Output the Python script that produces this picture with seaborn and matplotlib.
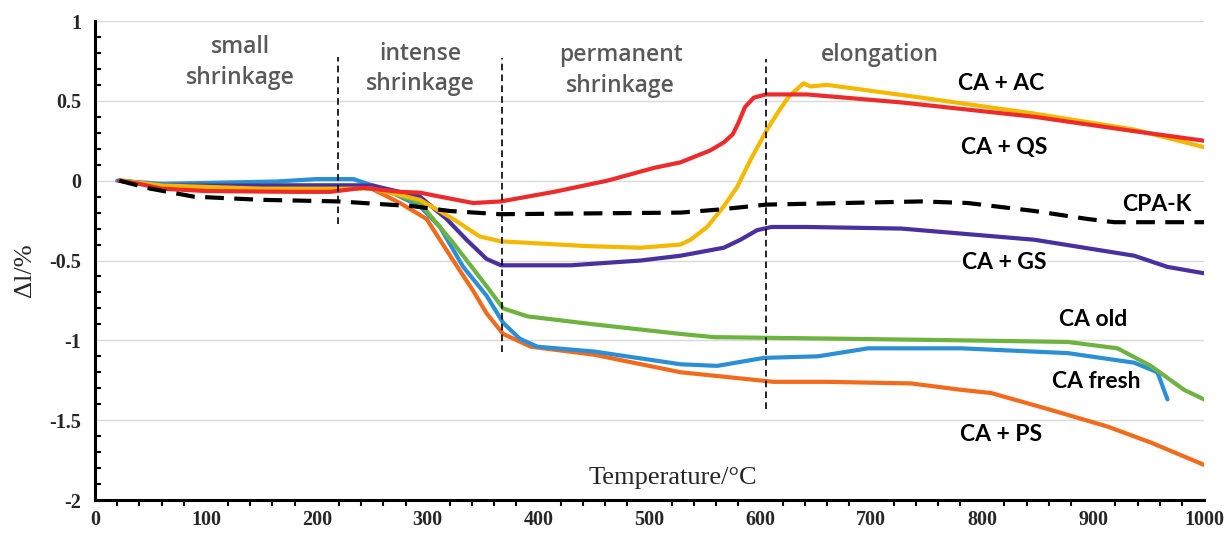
import matplotlib
matplotlib.use("Agg")
import numpy as np
import pandas as pd
import seaborn as sns
import matplotlib.pyplot as plt
from matplotlib.ticker import MultipleLocator

# ---------------- data ----------------
ac_t = [22, 40, 60, 100, 180, 212, 242, 275, 293, 311, 341, 366, 414, 462, 504, 528, 555, 567, 575, 580, 586, 594, 605, 642, 727, 847, 937, 1000]
ac_v = [0, -0.02, -0.05, -0.065, -0.07, -0.07, -0.045, -0.07, -0.075, -0.1, -0.14, -0.13, -0.07, 0.0, 0.08, 0.115, 0.19, 0.24, 0.29, 0.36, 0.46, 0.52, 0.54, 0.54, 0.49, 0.40, 0.31, 0.25]

qs_t = [25, 60, 150, 250, 293, 323, 347, 366, 444, 492, 528, 537, 552, 567, 579, 591, 606, 616, 626, 634, 639, 645, 660, 745, 847, 937, 1000]
qs_v = [0, -0.03, -0.05, -0.05, -0.12, -0.24, -0.35, -0.38, -0.41, -0.42, -0.40, -0.37, -0.29, -0.16, -0.04, 0.13, 0.32, 0.43, 0.53, 0.58, 0.61, 0.59, 0.60, 0.52, 0.42, 0.32, 0.21]

gs_t = [22, 60, 150, 250, 293, 317, 335, 353, 366, 429, 492, 528, 567, 582, 597, 610, 642, 727, 847, 937, 967, 1000]
gs_v = [0, -0.03, -0.03, -0.03, -0.1, -0.24, -0.37, -0.49, -0.53, -0.53, -0.5, -0.47, -0.42, -0.37, -0.31, -0.29, -0.29, -0.3, -0.37, -0.47, -0.54, -0.58]

old_t = [22, 60, 150, 250, 293, 323, 353, 368, 390, 450, 528, 558, 675, 781, 877, 922, 952, 982, 1000]
old_v = [0, -0.03, -0.03, -0.03, -0.14, -0.39, -0.66, -0.8, -0.85, -0.9, -0.96, -0.98, -0.99, -1.0, -1.01, -1.05, -1.16, -1.31, -1.37]

fresh_t = [20, 60, 164, 200, 233, 263, 293, 311, 332, 353, 368, 383, 399, 450, 528, 561, 603, 652, 697, 781, 877, 937, 958, 967]
fresh_v = [0, -0.02, -0.005, 0.01, 0.01, -0.06, -0.16, -0.29, -0.54, -0.72, -0.89, -0.99, -1.04, -1.07, -1.15, -1.16, -1.11, -1.1, -1.05, -1.05, -1.08, -1.14, -1.2, -1.37]

ps_t = [25, 60, 150, 248, 275, 299, 311, 323, 341, 353, 368, 393, 450, 528, 612, 661, 736, 781, 808, 859, 913, 952, 1000]
ps_v = [0, -0.04, -0.045, -0.045, -0.14, -0.24, -0.37, -0.5, -0.69, -0.83, -0.96, -1.04, -1.09, -1.2, -1.26, -1.26, -1.27, -1.31, -1.33, -1.43, -1.54, -1.64, -1.78]

cpak_t = [22, 50, 89, 150, 220, 287, 320, 365, 528, 564, 605, 745, 787, 847, 895, 919, 1000]
cpak_v = [0, -0.05, -0.1, -0.12, -0.13, -0.16, -0.19, -0.21, -0.2, -0.18, -0.15, -0.13, -0.14, -0.19, -0.24, -0.26, -0.26]

series_names = ["CA + PS", "CA fresh", "CA old", "CA + GS", "CA + QS", "CA + AC"]
series_t = [ps_t, fresh_t, old_t, gs_t, qs_t, ac_t]
series_v = [ps_v, fresh_v, old_v, gs_v, qs_v, ac_v]
series_colors = ["#F26A1B", "#2B8FD6", "#6DB33F", "#4A2FA0", "#F5B800", "#EE2B2B"]

# phase separators
vline_x = [219, 367, 605]
vline_lo = [-0.27, -1.07, -1.43]
vline_hi = [0.775, 0.77, 0.76]

phase_labels = ["small\nshrinkage", "intense\nshrinkage", "permanent\nshrinkage", "elongation"]
phase_x = [131, 293, 474, 708]
phase_y = [0.74, 0.70, 0.69, 0.79]

curve_labels = ["CA + AC", "CA + QS", "CPA-K", "CA + GS", "CA old", "CA fresh", "CA + PS"]
curve_lx = [817, 820, 957, 820, 900, 903, 817]
curve_ly = [0.61, 0.21, -0.15, -0.51, -0.87, -1.26, -1.59]

yticks = [-2, -1.5, -1, -0.5, 0, 0.5, 1]
ytick_labels = ["-2", "-1.5", "-1", "-0.5", "0", "0.5", "1"]
xticks = [0, 100, 200, 300, 400, 500, 600, 700, 800, 900, 1000]

# ---------------- plot ----------------
sns.set_theme(style="white")
fig, ax = plt.subplots(figsize=(12.29, 5.33), dpi=100)
fig.subplots_adjust(left=0.0773, right=0.9797, top=0.9606, bottom=0.0619)

for name, t, v, c in zip(series_names, series_t, series_v, series_colors):
    df = pd.DataFrame({"T": t, "dl": v})
    sns.lineplot(data=df, x="T", y="dl", ax=ax, color=c, lw=3,
                 sort=False, estimator=None, zorder=3)

dfk = pd.DataFrame({"T": cpak_t, "dl": cpak_v})
sns.lineplot(data=dfk, x="T", y="dl", ax=ax, color="black", lw=3,
             sort=False, estimator=None, zorder=4, linestyle=(0, (4.5, 2.5)))

for xv, lo, hi in zip(vline_x, vline_lo, vline_hi):
    ax.plot([xv, xv], [lo, hi], color="black", lw=1.2, linestyle=(0, (4, 2.5)), zorder=5)

for s, xv, yv in zip(phase_labels, phase_x, phase_y):
    ax.text(xv, yv, s, ha="center", va="center", fontsize=16.5, color="#595959",
            family="Open Sans", fontweight="semibold", linespacing=1.35, zorder=6)

for s, xv, yv in zip(curve_labels, curve_lx, curve_ly):
    ax.text(xv, yv, s, ha="center", va="center", fontsize=16.5, color="black",
            family="Lato", fontweight="bold", zorder=6,
            bbox=dict(fc="white", ec="none", pad=1.0))

ax.set_xlim(0, 1000)
ax.set_ylim(-2, 1)
ax.set_xticks(xticks)
ax.set_xticklabels([str(x) for x in xticks])
ax.set_yticks(yticks)
ax.set_yticklabels(ytick_labels)
ax.xaxis.set_minor_locator(MultipleLocator(20))
ax.yaxis.set_minor_locator(MultipleLocator(0.1))

ax.yaxis.grid(True, which="major", color="#D9D9D9", lw=1)
ax.xaxis.grid(False)
ax.set_axisbelow(True)

for side in ["top", "right"]:
    ax.spines[side].set_visible(False)
for side in ["left", "bottom"]:
    ax.spines[side].set_color("black")
    ax.spines[side].set_linewidth(2.2)

ax.tick_params(axis="both", which="major", direction="inout", length=8, width=2,
               color="black", labelsize=14.5, pad=3)
ax.tick_params(axis="y", which="major", pad=6)
ax.tick_params(axis="y", which="minor", direction="in", length=4, width=1.5, color="black", left=True)
ax.tick_params(axis="x", which="minor", direction="out", length=4, width=1.5, color="black", bottom=True)
for lab in ax.get_xticklabels() + ax.get_yticklabels():
    lab.set_family("Liberation Serif")
    lab.set_fontweight("bold")

ax.set_xlabel("Temperature/°C", family="Liberation Serif", fontsize=19)
ax.xaxis.set_label_coords(0.521, 0.046)
ax.xaxis.label.set_va("center")
ax.set_ylabel("Δl/%", family="Liberation Serif", fontsize=19)
ax.yaxis.set_label_coords(-0.063, 0.48)
ax.yaxis.label.set_va("center")

fig.savefig("out.png", dpi=100, facecolor="white")
